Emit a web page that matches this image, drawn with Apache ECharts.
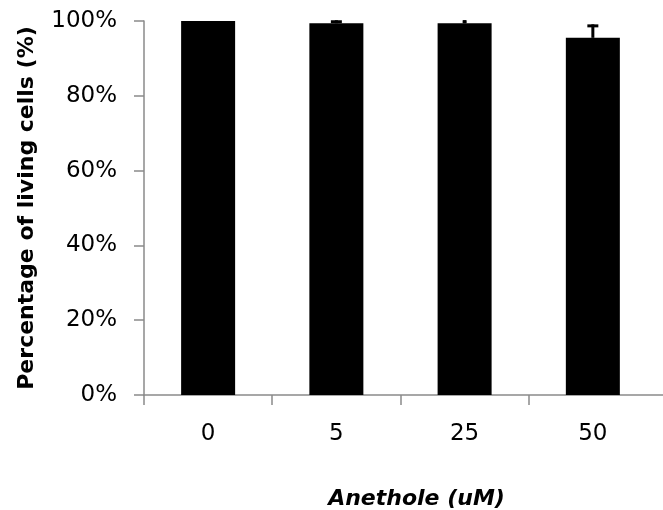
<!DOCTYPE html>
<html><head><meta charset="utf-8">
<script src="https://cdn.jsdelivr.net/npm/echarts@6/dist/echarts.min.js"></script>
<style>html,body{margin:0;padding:0;background:#fff}#c{width:663px;height:510px}</style>
</head><body><div id="c"></div>
<script>
const categories = ['0', '5', '25', '50'];
const values = [100, 99.4, 99.4, 95.5];
const errors = [0, 0.8, 0.8, 3.6];
const yTicks = [0, 20, 40, 60, 80, 100];

const centers = categories.map((c, i) => i + 0.5);
const barData = values.map((v, i) => [centers[i], v]);
const errData = values.map((v, i) => [centers[i], v, errors[i]]);
const capW = [11, 11, 4, 11];

const chart = echarts.init(document.getElementById('c'));
const axisGray = '#8a8a8a';
chart.setOption({
  animation: false,
  grid: { left: 144, right: 0, top: 21, bottom: 115, outerBoundsMode: 'none', containLabel: false },
  xAxis: {
    type: 'value', min: 0, max: 4.047,
    splitLine: { show: false },
    axisLine: { show: true, onZero: false, lineStyle: { color: axisGray, width: 1.5 } },
    axisTick: { show: true, length: 10, customValues: [0, 1, 2, 3], lineStyle: { color: axisGray, width: 1.5 } },
    axisLabel: {
      show: true, customValues: centers, margin: 28,
      formatter: v => categories[Math.round(v - 0.5)],
      fontFamily: 'DejaVu Sans', fontSize: 23, color: '#000'
    },
    name: 'Anethole (uM)', nameLocation: 'middle', nameGap: 93,
    nameTextStyle: { fontFamily: 'DejaVu Sans', fontStyle: 'italic', fontWeight: 'bold', fontSize: 22, color: '#000', padding: [0, 0, 0, 26] }
  },
  yAxis: {
    type: 'value', min: 0, max: 100, interval: 20,
    splitLine: { show: false },
    axisLine: { show: true, lineStyle: { color: axisGray, width: 1.5 } },
    axisTick: { show: true, length: 10, lineStyle: { color: axisGray, width: 1.5 } },
    axisLabel: { formatter: '{value}%', margin: 27, fontFamily: 'DejaVu Sans', fontSize: 23, color: '#000' },
    name: 'Percentage of living cells (%)', nameLocation: 'middle', nameGap: 106, nameRotate: 90,
    nameTextStyle: { fontFamily: 'DejaVu Sans', fontWeight: 'bold', fontSize: 22, color: '#000' }
  },
  series: [
    {
      type: 'bar', data: barData, barWidth: 54,
      itemStyle: { color: '#000' }
    },
    {
      type: 'custom', data: errData, z: 3,
      renderItem: function (params, api) {
        const x = api.value(0), v = api.value(1), e = api.value(2);
        if (!e) return { type: 'group', children: [] };
        const base = api.coord([x, v]);
        const top = api.coord([x, v + e]);
        const w = capW[params.dataIndex];
        return {
          type: 'group', children: [
            { type: 'rect', shape: { x: base[0] - 1.5, y: top[1], width: 3, height: base[1] - top[1] }, style: { fill: '#000' } },
            { type: 'rect', shape: { x: base[0] - w / 2, y: top[1], width: w, height: 3 }, style: { fill: '#000' } }
          ]
        };
      }
    }
  ]
});
</script></body></html>
